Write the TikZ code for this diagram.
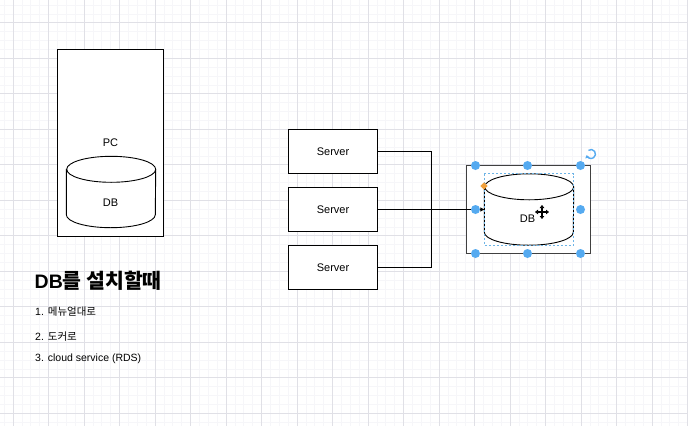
\documentclass[tikz,border=0pt]{standalone}
\usepackage{fontspec}
\setmainfont{Liberation Sans}
\newfontfamily\krfont{Noto Sans CJK KR}
\newfontfamily\krtitle{Noto Sans CJK KR}[Scale=1.05]
\usetikzlibrary{arrows.meta,positioning}
\definecolor{handle blue}{RGB}{85,170,240}
\definecolor{sel blue}{RGB}{110,180,230}
\definecolor{handle orange}{RGB}{240,160,60}
\definecolor{grid major}{RGB}{224,224,230}
\definecolor{grid minor}{RGB}{246,246,249}

% cylinder outline drawn on a db node
\newcommand\drawcyl[1]{%
  \filldraw[fill=white,line width=0.9pt] ([yshift=-13pt]#1.north west) -- ([yshift=13pt]#1.south west)
    arc[start angle=180,end angle=360,x radius=44.5pt,y radius=13pt] -- ([yshift=-13pt]#1.north east)
    arc[start angle=0,end angle=180,x radius=44.5pt,y radius=13pt] -- cycle;
  \draw[line width=0.9pt] ([yshift=-13pt]#1.north east) arc[start angle=0,end angle=-180,x radius=44.5pt,y radius=13pt];
}

\begin{document}
\begin{tikzpicture}[x=1pt,y=-1pt,node distance=58pt,
  box/.style={draw,fill=white,line width=0.9pt,rectangle,inner sep=0pt},
  server node/.style={box,minimum width=89pt,minimum height=44pt,font=\fontsize{11}{13}\selectfont},
  db node/.style={rectangle,inner sep=0pt,minimum width=89pt,minimum height=71pt},
  label text/.style={inner sep=0pt,font=\fontsize{11}{13}\selectfont},
  list item/.style={anchor=west,inner sep=0pt,font=\fontsize{10.5}{12}\selectfont},
  handle/.style={fill=handle blue,circle,inner sep=0pt,minimum size=9pt}]
    \useasboundingbox[fill=white] (0,0) rectangle (688,426);

    % grid
    \foreach \k in {-2,...,76}
        \draw[grid minor,line width=0.6pt] ({13+8.875*\k},0) -- ({13+8.875*\k},426);
    \foreach \k in {-3,...,45}
        \draw[grid minor,line width=0.6pt] (0,{22.7+8.875*\k}) -- (688,{22.7+8.875*\k});
    \foreach \k in {0,...,19}
        \draw[grid major,line width=0.8pt] ({13+35.5*\k},0) -- ({13+35.5*\k},426);
    \foreach \k in {0,...,11}
        \draw[grid major,line width=0.8pt] (0,{22.7+35.5*\k}) -- (688,{22.7+35.5*\k});

    % PC with its own DB
    \node[box,minimum width=106pt,minimum height=187pt,font=\fontsize{11}{13}\selectfont] (pc) at (110.5,143) {PC};
    \node[db node] (db1) at (111,192) {};
    \drawcyl{db1}
    \node[label text] (db1 text) at (110.5,202.5) {DB};

    % title and list
    \node[anchor=west,inner sep=0pt,font=\fontsize{19.5}{22}\selectfont\bfseries] (title) at (34.5,281) {DB{\krtitle 를 설치할때}};
    \node[list item] (item1) at (35,312) {1. {\krfont 메뉴얼대로}};
    \node[list item] (item2) at (35,336.5) {2. {\krfont 도커로}};
    \node[list item] (item3) at (35,359) {3. cloud service (RDS)};

    % servers
    \node[server node] (s1) at (333,151.5) {Server};
    \node[server node] (s2) [below of = s1] {Server};
    \node[server node] (s3) [below of = s2] {Server};

    % shared DB
    \node[box,draw=black!75,minimum width=124pt,minimum height=88pt] (dbbox) at (528.5,209.5) {};
    \node[db node] (db2) at (529,209.5) {};
    \drawcyl{db2}
    \node[label text] (db2 text) at (527.5,218.5) {DB};

    \draw[line width=0.9pt] (s1.east) -- ++(53,0) |- (s3.east);
    \draw[line width=0.9pt,-{Triangle[length=4pt,width=4pt]}] (s2.east) -- (db2.west);

    % selection
    \draw[sel blue,line width=0.7pt,dash pattern=on 2pt off 2pt] (db2.north west) rectangle (db2.south east);
    \foreach \p [count=\i] in {(475.5,165.5),(527.5,165.5),(580.5,165.5),(475.5,209.5),(580.5,209.5),(475.5,253.5),(527.5,253.5),(580.5,253.5)}
        \node[handle] (h\i) at \p {};
    \node[fill=handle orange,rectangle,minimum size=5pt,inner sep=0pt,rotate=45] (turn point) at (484,186) {};
    \coordinate (rot) at (591,154);
    \begin{scope}[shift={(rot)},x=1pt,y=1pt]
        \draw[handle blue,line width=1.4pt,-{Triangle[length=2.8pt,width=4.2pt]}] (125:4.5) arc[start angle=125,end angle=-165,radius=4.5];
    \end{scope}
    \coordinate (mv) at (542,212);
    \draw[line width=1.1pt,{Triangle[length=3pt,width=4.5pt]}-{Triangle[length=3pt,width=4.5pt]}] ([xshift=-7pt]mv) -- ([xshift=7pt]mv);
    \draw[line width=1.1pt,{Triangle[length=3pt,width=4.5pt]}-{Triangle[length=3pt,width=4.5pt]}] ([yshift=-7pt]mv) -- ([yshift=7pt]mv);
\end{tikzpicture}
\end{document}
